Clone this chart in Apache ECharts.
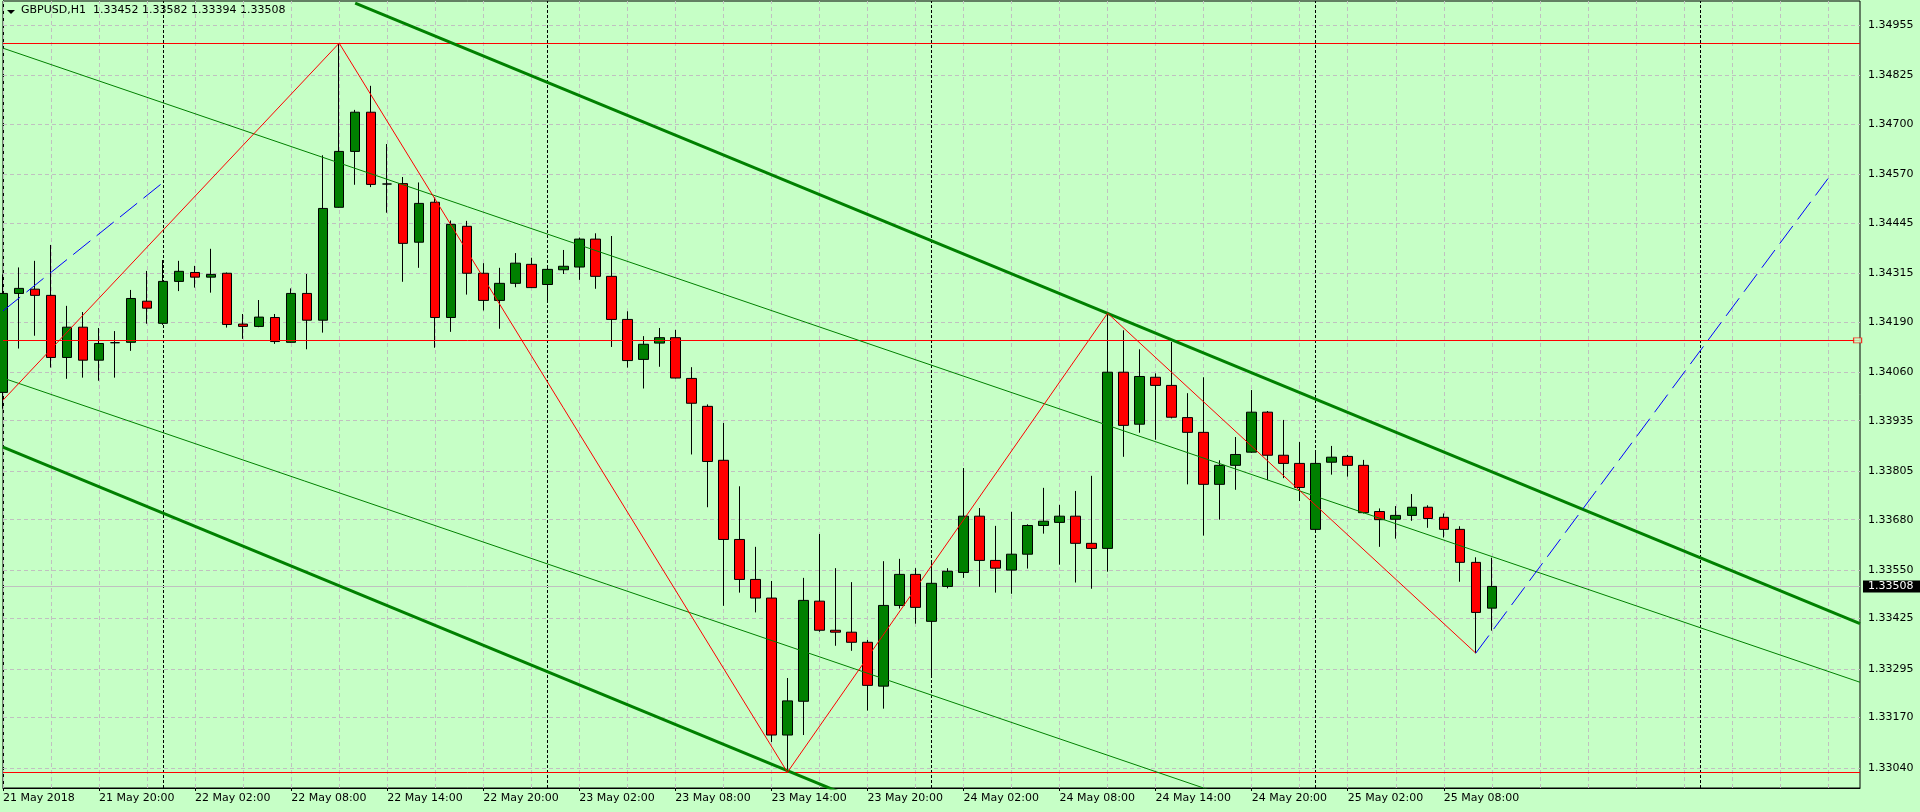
<!DOCTYPE html>
<html><head><meta charset="utf-8">
<script src="https://cdn.jsdelivr.net/npm/echarts@6/dist/echarts.min.js"></script>
<style>html,body{margin:0;padding:0;background:#c6ffc6;}#c{width:1920px;height:812px;}</style>
</head><body><div id="c"></div>
<script>
const symbolName = 'GBPUSD,H1';
const timeLabels = ['21 May 2018','21 May 20:00','22 May 02:00','22 May 08:00','22 May 14:00','22 May 20:00','23 May 02:00','23 May 08:00','23 May 14:00','23 May 20:00','24 May 02:00','24 May 08:00','24 May 14:00','24 May 20:00','25 May 02:00','25 May 08:00'];
const opens = [1.34008,1.34263,1.34274,1.34258,1.34098,1.34176,1.34091,1.34136,1.34137,1.34243,1.34186,1.34294,1.34317,1.34305,1.34315,1.34184,1.34178,1.34201,1.34137,1.34263,1.34194,1.34485,1.34629,1.34730,1.34545,1.34546,1.34395,1.34498,1.34201,1.34436,1.34315,1.34245,1.34289,1.34338,1.34286,1.34324,1.34331,1.34403,1.34307,1.34196,1.34093,1.34135,1.34149,1.34044,1.33972,1.33833,1.33629,1.33526,1.33478,1.33125,1.33212,1.33470,1.33395,1.33390,1.33364,1.33251,1.33459,1.33539,1.33418,1.33508,1.33544,1.33689,1.33575,1.33550,1.33591,1.33665,1.33673,1.33689,1.33619,1.33606,1.34060,1.33926,1.34047,1.34026,1.33943,1.33905,1.33771,1.33820,1.33854,1.33957,1.33846,1.33825,1.33655,1.33828,1.33843,1.33820,1.33701,1.33681,1.33691,1.33712,1.33686,1.33655,1.33570,1.33452];
const closes = [1.34263,1.34276,1.34258,1.34098,1.34176,1.34091,1.34134,1.34136,1.34250,1.34225,1.34294,1.34320,1.34305,1.34312,1.34183,1.34178,1.34202,1.34139,1.34263,1.34194,1.34482,1.34629,1.34730,1.34544,1.34545,1.34392,1.34495,1.34201,1.34441,1.34315,1.34245,1.34289,1.34341,1.34278,1.34325,1.34333,1.34403,1.34307,1.34196,1.34090,1.34132,1.34149,1.34045,1.33980,1.33830,1.33629,1.33526,1.33478,1.33125,1.33213,1.33472,1.33395,1.33390,1.33364,1.33253,1.33459,1.33539,1.33454,1.33516,1.33547,1.33689,1.33575,1.33555,1.33591,1.33665,1.33676,1.33689,1.33619,1.33606,1.34060,1.33923,1.34049,1.34026,1.33944,1.33905,1.33771,1.33820,1.33848,1.33957,1.33846,1.33825,1.33763,1.33825,1.33841,1.33820,1.33698,1.33680,1.33691,1.33712,1.33683,1.33655,1.33570,1.33441,1.33508];
const lows = [1.33966,1.34121,1.34154,1.34072,1.34043,1.34046,1.34038,1.34046,1.34115,1.34185,1.34182,1.34269,1.34278,1.34265,1.34175,1.34146,1.34176,1.34133,1.34136,1.34119,1.34162,1.34484,1.34543,1.34537,1.34471,1.34293,1.34329,1.34123,1.34164,1.34260,1.34219,1.34172,1.34279,1.34277,1.34241,1.34313,1.34298,1.34275,1.34125,1.34072,1.34018,1.34074,1.34044,1.33848,1.33712,1.33458,1.33492,1.33441,1.33107,1.33029,1.33125,1.33391,1.33355,1.33342,1.33188,1.33193,1.33451,1.33412,1.33274,1.33503,1.33530,1.33507,1.33492,1.33489,1.33554,1.33644,1.33564,1.33518,1.33502,1.33546,1.33842,1.33904,1.33886,1.33941,1.33771,1.33639,1.33680,1.33757,1.33852,1.33782,1.33787,1.33728,1.33651,1.33796,1.33791,1.33696,1.33610,1.33631,1.33677,1.33659,1.33634,1.33520,1.33336,1.33394];
const highs = [1.34312,1.34330,1.34347,1.34388,1.34231,1.34215,1.34174,1.34166,1.34272,1.34321,1.34349,1.34347,1.34334,1.34378,1.34317,1.34210,1.34246,1.34210,1.34276,1.34313,1.34619,1.34908,1.34736,1.34798,1.34648,1.34563,1.34549,1.34510,1.34451,1.34450,1.34341,1.34329,1.34367,1.34355,1.34334,1.34375,1.34407,1.34418,1.34411,1.34217,1.34153,1.34174,1.34169,1.34073,1.33977,1.33929,1.33766,1.33610,1.33522,1.33272,1.33530,1.33643,1.33555,1.33519,1.33370,1.33573,1.33579,1.33555,1.33576,1.33555,1.33813,1.33710,1.33664,1.33700,1.33668,1.33762,1.33718,1.33754,1.33793,1.34212,1.34168,1.34119,1.34057,1.34138,1.34006,1.34047,1.33833,1.33893,1.34014,1.33960,1.33937,1.33880,1.33854,1.33870,1.33847,1.33834,1.33709,1.33715,1.33746,1.33717,1.33696,1.33663,1.33583,1.33582];
const priceTicks = [1.34955,1.34825,1.34700,1.34570,1.34445,1.34315,1.34190,1.34060,1.33935,1.33805,1.33680,1.33550,1.33425,1.33295,1.33170,1.33040];
const daySeparators = [10,34,58,82,106];
const zigzag = [[0,1.33988],[21,1.34908],[49,1.33029],[69,1.34212],[92,1.33336]];
const projection = [[92,1.33336],[114,1.34559]];
const oldProjection = [[0,1.34218],[10,1.34549]];
const channelUpper = [[22,1.35011],[116,1.33412]];
const channelLower = [[0,1.33867],[55,1.32931]];
const innerUpper = [[0,1.34895],[116,1.33261]];
const innerLower = [[0,1.34045],[80,1.32918]];
const levels = [1.34908,1.34142,1.33029];
const bid = 1.33508;

const BARS_PER_LABEL = 6, BARS_PER_GRID = 3, X_MAX = 116;
const FONT = 'DejaVu Sans';
const BG = '#c6ffc6';

const candles = opens.map((o,i)=>[i,o,closes[i],lows[i],highs[i]]);
const labelIdx = timeLabels.map((_,i)=>i*BARS_PER_LABEL);
const vGrid = []; for (let k=0;k<=X_MAX;k+=BARS_PER_GRID) vGrid.push({xAxis:k});
const hGrid = priceTicks.map(v=>({yAxis:v}));
const last = opens.length-1;
const titleText = symbolName + '  ' + [opens[last],highs[last],lows[last],closes[last]].map(v=>v.toFixed(5)).join(' ');
const anchor = [[0, bid]];

function lineSeries(pts,color,width,type,z){
  return {type:'line',data:pts,symbol:'none',silent:true,z:z||4,animation:false,
    lineStyle:{color:color,width:width,type:type||'solid'}};
}
function markSeries(data,style,z,extra,label){
  return Object.assign({type:'line',data:anchor,symbol:'none',silent:true,z:z,animation:false,
    lineStyle:{width:0},
    markLine:{silent:true,precision:6,symbol:['none','none'],animation:false,z:z,label:label||{show:false},lineStyle:style,data:data}},extra||{});
}

const chart = echarts.init(document.getElementById('c'));
chart.setOption({
  backgroundColor:BG,
  animation:false,
  grid:{left:3,right:60,top:1,bottom:24,show:true,borderColor:'#000',borderWidth:1,backgroundColor:BG,containLabel:false,outerBoundsMode:'none'},
  xAxis:{type:'value',min:0,max:X_MAX,
    axisLine:{show:true,lineStyle:{color:'#000',width:1}},
    axisTick:{show:true,length:3,customValues:labelIdx,lineStyle:{color:'#000'}},
    axisLabel:{customValues:labelIdx,formatter:v=>timeLabels[Math.round(v/BARS_PER_LABEL)]||'',align:'left',margin:5,color:'#000',fontFamily:FONT,fontSize:11},
    splitLine:{show:false}},
  yAxis:{type:'value',position:'right',min:1.329885,max:1.350166,
    axisLine:{show:true,lineStyle:{color:'#000',width:1}},
    axisTick:{show:true,length:3,customValues:priceTicks,lineStyle:{color:'#000'}},
    axisLabel:{customValues:priceTicks,formatter:v=>v.toFixed(5),margin:8,color:'#000',fontFamily:FONT,fontSize:11},
    splitLine:{show:false}},
  graphic:[
    {type:'polygon',shape:{points:[[7,10],[15,10],[11,14]]},style:{fill:'#000'}},
    {type:'text',left:21,top:5,style:{text:titleText,font:'11px "DejaVu Sans"',fill:'#000'}}
  ],
  series:[
    markSeries(vGrid.concat(hGrid),{color:'#c0c0c0',width:1,type:[4,3]},1),
    markSeries(daySeparators.map(k=>({xAxis:k})),{color:'#000',width:1,type:[3,2]},2),
    markSeries([{yAxis:bid}],{color:'#c0c0c0',width:1,type:'solid'},2,{clip:false},
      {show:true,position:'end',formatter:bid.toFixed(5),backgroundColor:'#000',color:'#fff',padding:[1,8,0,5],distance:3,fontFamily:FONT,fontSize:11}),
    {type:'candlestick',data:candles,barWidth:10,z:3,silent:true,animation:false,clip:true,
      itemStyle:{color:'#008000',color0:'#ff0000',borderColor:'#000',borderColor0:'#000',borderColorDoji:'#000',borderWidth:1}},
    lineSeries(channelUpper,'#008000',3),
    lineSeries(channelLower,'#008000',3),
    lineSeries(innerUpper,'#008000',1),
    lineSeries(innerLower,'#008000',1),
    lineSeries(zigzag,'#ff0000',1),
    lineSeries(projection,'#0000ff',1,[22,8]),
    lineSeries(oldProjection,'#0000ff',1,[22,8]),
    markSeries(levels.map(v=>({yAxis:v})),{color:'#ff0000',width:1,type:'solid'},4),
    {type:'scatter',data:[[X_MAX-0.15,levels[1]]],symbol:'rect',symbolSize:[8,5],clip:false,silent:true,z:5,animation:false,
      itemStyle:{color:BG,borderColor:'#ff0000',borderWidth:1}}
  ]
});
</script>
</body></html>
